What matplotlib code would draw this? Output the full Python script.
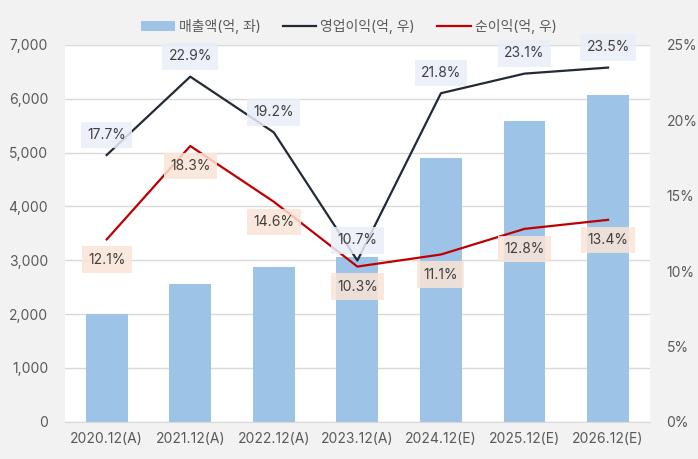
import matplotlib.pyplot as plt
from matplotlib.ticker import FuncFormatter

plt.rcParams['font.family'] = ['Inter', 'Noto Sans CJK KR', 'DejaVu Sans']

years = ["2020.12(A)", "2021.12(A)", "2022.12(A)", "2023.12(A)",
         "2024.12(E)", "2025.12(E)", "2026.12(E)"]
sales = [2005, 2560, 2880, 3065, 4900, 5590, 6070]
op_margin = [17.7, 22.9, 19.2, 10.7, 21.8, 23.1, 23.5]
net_margin = [12.1, 18.3, 14.6, 10.3, 11.1, 12.8, 13.4]

txt = '#595959'
fs = 10

fig = plt.figure(figsize=(6.98, 4.59), dpi=100, facecolor='#f2f2f2')
ax = fig.add_axes([0.093, 0.081, 0.838, 0.821])
ax.set_facecolor('white')
x = list(range(len(years)))

b = ax.bar(x, sales, width=0.5, color='#9dc3e6', zorder=2, label='매출액(억, 좌)')
ax.set_ylim(0, 7000)
ax.set_xlim(-0.5, len(years) - 0.5)
ax.set_yticks(range(0, 7001, 1000))
ax.yaxis.set_major_formatter(FuncFormatter(lambda v, p: f"{int(v):,}"))
ax.grid(axis='y', color='#d9d9d9', linewidth=1, zorder=0)
ax.set_xticks(x)
ax.set_xticklabels(years)
for s in ['top', 'right', 'left']:
    ax.spines[s].set_visible(False)
ax.spines['bottom'].set_color('#d9d9d9')
ax.tick_params(axis='both', length=0, colors=txt, labelsize=fs)
ax.tick_params(axis='x', pad=7)
ax.tick_params(axis='y', pad=12)

ax2 = ax.twinx()
ax2.set_ylim(0, 25)
ax2.set_yticks(range(0, 26, 5))
ax2.yaxis.set_major_formatter(FuncFormatter(lambda v, p: f"{int(v)}%"))
for s in ax2.spines.values():
    s.set_visible(False)
ax2.tick_params(axis='y', length=0, colors=txt, labelsize=fs, pad=12)

l1, = ax2.plot(x, op_margin, color='#222a35', linewidth=1.6, zorder=3, label='영업이익(억, 우)')
l2, = ax2.plot(x, net_margin, color='#c00000', linewidth=1.6, zorder=3, label='순이익(억, 우)')

for xi, v in zip(x, op_margin):
    ax2.annotate(f"{v}%", (xi, v), xytext=(0, 14.5), textcoords='offset points',
                 ha='center', va='center', fontsize=fs, color='#404040', zorder=4,
                 bbox=dict(boxstyle='square,pad=0.45', fc='#e9eef8', ec='none', alpha=0.85))
for xi, v in zip(x, net_margin):
    ax2.annotate(f"{v}%", (xi, v), xytext=(0, -14.5), textcoords='offset points',
                 ha='center', va='center', fontsize=fs, color='#404040', zorder=4,
                 bbox=dict(boxstyle='square,pad=0.45', fc='#fbe5d6', ec='none', alpha=0.85))

fig.legend(handles=[b, l1, l2], loc='center', bbox_to_anchor=(0.5, 0.943), ncol=3,
           frameon=False, fontsize=fs, labelcolor=txt, handlelength=2.4,
           columnspacing=1.6, handletextpad=0.3)

fig.savefig('out.png', dpi=100, facecolor=fig.get_facecolor())
